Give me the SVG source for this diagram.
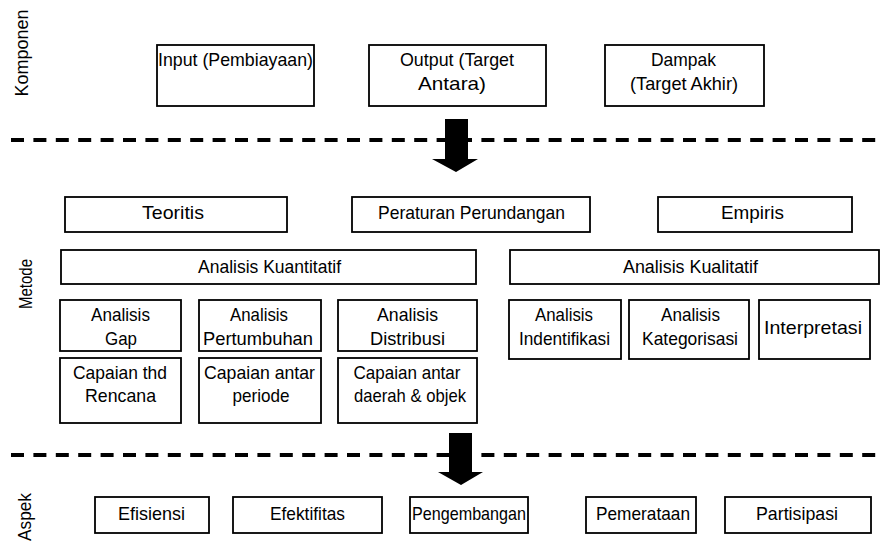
<svg xmlns="http://www.w3.org/2000/svg" width="886" height="543" viewBox="0 0 886 543">
<style>
  .box { fill: #fff; stroke: #000; stroke-width: 1.8; }
  .t { font-family: "Liberation Sans", Arial, sans-serif; font-size: 19px; fill: #000; text-anchor: middle; }
  .dash { stroke: #000; stroke-width: 4; stroke-dasharray: 13 9.4; fill: none; }
  .arrow { fill: #000; stroke: none; }
</style>
<rect width="886" height="543" fill="#fff"/>

<g id="labels">
  <text class="t" transform="translate(28,53) rotate(-90)" textLength="87" lengthAdjust="spacingAndGlyphs">Komponen</text>
  <text class="t" transform="translate(32,284) rotate(-90)" textLength="50" lengthAdjust="spacingAndGlyphs">Metode</text>
  <text class="t" transform="translate(31,517) rotate(-90)" textLength="48" lengthAdjust="spacingAndGlyphs">Aspek</text>
</g>

<g id="connectors">
  <line class="dash" x1="11" y1="140" x2="878" y2="140"/>
  <line class="dash" x1="11" y1="455" x2="878" y2="455"/>
  <polygon class="arrow" points="445,119 468,119 468,159 478,159 456,172 432,159 445,159"/>
  <polygon class="arrow" points="449,433 472,433 472,472 483,472 461,485 438,472 449,472"/>
</g>

<g id="input">
  <rect class="box" x="157" y="45" width="157" height="61"/>
  <text class="t" x="235.5" y="66" textLength="155" lengthAdjust="spacingAndGlyphs">Input (Pembiayaan)</text>
</g>
<g id="output">
  <rect class="box" x="369" y="45" width="177" height="61"/>
  <text class="t" x="457" y="66" textLength="114" lengthAdjust="spacingAndGlyphs">Output (Target</text>
  <text class="t" x="452" y="90" textLength="68" lengthAdjust="spacingAndGlyphs">Antara)</text>
</g>
<g id="dampak">
  <rect class="box" x="605" y="45" width="159" height="61"/>
  <text class="t" x="683.5" y="66" textLength="65" lengthAdjust="spacingAndGlyphs">Dampak</text>
  <text class="t" x="684" y="90" textLength="108" lengthAdjust="spacingAndGlyphs">(Target Akhir)</text>
</g>

<g id="teoritis">
  <rect class="box" x="65" y="197" width="222" height="35"/>
  <text class="t" x="173" y="219" textLength="62" lengthAdjust="spacingAndGlyphs">Teoritis</text>
</g>
<g id="peraturan">
  <rect class="box" x="352" y="197" width="238" height="35"/>
  <text class="t" x="471.5" y="219" textLength="187" lengthAdjust="spacingAndGlyphs">Peraturan Perundangan</text>
</g>
<g id="empiris">
  <rect class="box" x="658" y="197" width="194" height="35"/>
  <text class="t" x="752.5" y="219" textLength="63" lengthAdjust="spacingAndGlyphs">Empiris</text>
</g>

<g id="kuantitatif">
  <rect class="box" x="61" y="250" width="415" height="34"/>
  <text class="t" x="269.5" y="273" textLength="143" lengthAdjust="spacingAndGlyphs">Analisis Kuantitatif</text>
</g>
<g id="kualitatif">
  <rect class="box" x="510" y="250" width="369" height="34"/>
  <text class="t" x="690.5" y="273" textLength="135" lengthAdjust="spacingAndGlyphs">Analisis Kualitatif</text>
</g>

<g id="gap">
  <rect class="box" x="60" y="300" width="121" height="51"/>
  <text class="t" x="120.5" y="321" textLength="59" lengthAdjust="spacingAndGlyphs">Analisis</text>
  <text class="t" x="121" y="345" textLength="32" lengthAdjust="spacingAndGlyphs">Gap</text>
</g>
<g id="pertumbuhan">
  <rect class="box" x="199" y="300" width="122" height="51"/>
  <text class="t" x="259" y="321" textLength="58" lengthAdjust="spacingAndGlyphs">Analisis</text>
  <text class="t" x="258" y="345" textLength="110" lengthAdjust="spacingAndGlyphs">Pertumbuhan</text>
</g>
<g id="distribusi">
  <rect class="box" x="338" y="300" width="139" height="51"/>
  <text class="t" x="407.5" y="321" textLength="61" lengthAdjust="spacingAndGlyphs">Analisis</text>
  <text class="t" x="407.5" y="345" textLength="75" lengthAdjust="spacingAndGlyphs">Distribusi</text>
</g>
<g id="identifikasi">
  <rect class="box" x="509" y="300" width="112" height="59"/>
  <text class="t" x="564" y="321" textLength="58" lengthAdjust="spacingAndGlyphs">Analisis</text>
  <text class="t" x="564.5" y="345" textLength="91" lengthAdjust="spacingAndGlyphs">Indentifikasi</text>
</g>
<g id="kategorisasi">
  <rect class="box" x="629" y="300" width="120" height="59"/>
  <text class="t" x="690.5" y="321" textLength="59" lengthAdjust="spacingAndGlyphs">Analisis</text>
  <text class="t" x="690" y="345" textLength="96" lengthAdjust="spacingAndGlyphs">Kategorisasi</text>
</g>
<g id="interpretasi">
  <rect class="box" x="759" y="300" width="111" height="59"/>
  <text class="t" x="813" y="334" textLength="98" lengthAdjust="spacingAndGlyphs">Interpretasi</text>
</g>

<g id="capaian-rencana">
  <rect class="box" x="60" y="358" width="121" height="65"/>
  <text class="t" x="120" y="379" textLength="94" lengthAdjust="spacingAndGlyphs">Capaian thd</text>
  <text class="t" x="120.5" y="402" textLength="71" lengthAdjust="spacingAndGlyphs">Rencana</text>
</g>
<g id="capaian-periode">
  <rect class="box" x="199" y="358" width="122" height="65"/>
  <text class="t" x="259.5" y="379" textLength="111" lengthAdjust="spacingAndGlyphs">Capaian antar</text>
  <text class="t" x="261" y="402" textLength="57" lengthAdjust="spacingAndGlyphs">periode</text>
</g>
<g id="capaian-daerah">
  <rect class="box" x="338" y="358" width="139" height="65"/>
  <text class="t" x="407" y="379" textLength="107" lengthAdjust="spacingAndGlyphs">Capaian antar</text>
  <text class="t" x="410" y="402" textLength="112" lengthAdjust="spacingAndGlyphs">daerah &amp; objek</text>
</g>

<g id="efisiensi">
  <rect class="box" x="95" y="497" width="114" height="36"/>
  <text class="t" x="151.5" y="520" textLength="67" lengthAdjust="spacingAndGlyphs">Efisiensi</text>
</g>
<g id="efektifitas">
  <rect class="box" x="233" y="497" width="149" height="36"/>
  <text class="t" x="307.5" y="520" textLength="75" lengthAdjust="spacingAndGlyphs">Efektifitas</text>
</g>
<g id="pengembangan">
  <rect class="box" x="410" y="497" width="118" height="36"/>
  <text class="t" x="469" y="520" textLength="114" lengthAdjust="spacingAndGlyphs">Pengembangan</text>
</g>
<g id="pemerataan">
  <rect class="box" x="586" y="497" width="110" height="36"/>
  <text class="t" x="643" y="520" textLength="94" lengthAdjust="spacingAndGlyphs">Pemerataan</text>
</g>
<g id="partisipasi">
  <rect class="box" x="725" y="497" width="146" height="36"/>
  <text class="t" x="797" y="520" textLength="82" lengthAdjust="spacingAndGlyphs">Partisipasi</text>
</g>
</svg>
